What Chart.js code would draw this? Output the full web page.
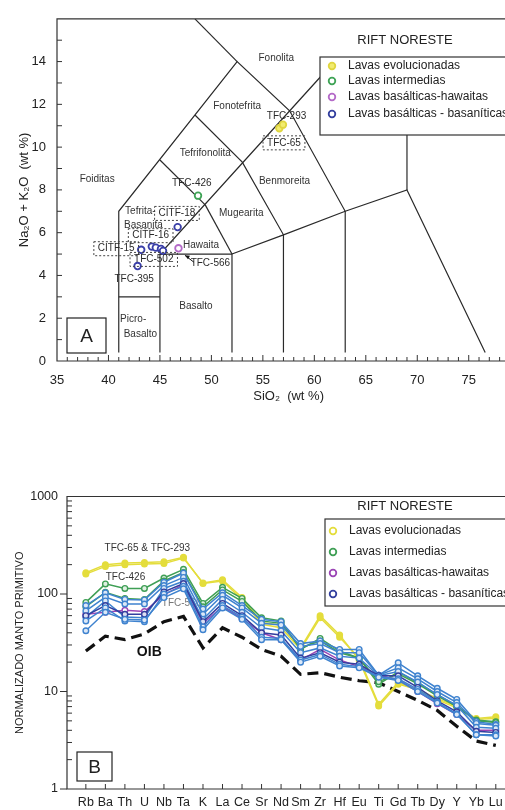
<!DOCTYPE html>
<html>
<head>
<meta charset="utf-8">
<script src="https://cdn.jsdelivr.net/npm/chart.js@4.4.0/dist/chart.umd.min.js"></script>
<style>
html, body { margin: 0; padding: 0; background: #fff; overflow: hidden; width: 505px; height: 810px; }
#tas { position: absolute; left: 0; top: 0; }
#spider { position: absolute; left: 0; top: 480px; }
</style>
</head>
<body>
<canvas id="tas" width="526" height="410"></canvas>
<canvas id="spider" width="526" height="330"></canvas>
<script>
// ---- panel A : TAS (SiO2 vs Na2O+K2O) ----
var evolvedPts = [[56.6, 10.88], [56.95, 11.05]];
var intermediatePts = [[48.7, 7.73]];
var hawaiitePts = [[46.8, 5.27]];
var basanitePts = [[46.72, 6.26], [43.18, 5.2], [44.21, 5.35], [44.6, 5.3], [45.1, 5.24], [45.3, 5.15], [42.83, 4.44]];

// field boundaries (Le Bas et al.)
var fieldLines = [
    [[41, 0.4], [41, 7], [52.5, 14], [57.6, 11.7], [63, 7], [63, 0.4]],
    [[48.4, 16], [52.5, 14]],
    [[41, 3], [45, 3]],
    [[45, 0.4], [45, 5], [61, 13.5]],
    [[45, 5], [52, 5], [52, 0.4]],
    [[52, 5], [57, 5.9], [63, 7], [69, 8], [76.6, 0.4]],
    [[49.4, 7.3], [52, 5]],
    [[45, 9.4], [49.4, 7.3]],
    [[48.4, 11.5], [53, 9.3], [57, 5.9], [57, 0.4]],
    [[69, 8], [69, 13]]
];

var fieldNames = ['Fonolita', 'Fonotefrita', 'Tefrifonolita', 'Foiditas', 'Benmoreita', 'Mugearita',
    'Tefrita-', 'Basanita', 'Hawaita', 'Basalto', 'Picro-', 'Basalto'];
var fieldNameAt = [[56.3, 14.15], [52.5, 11.9], [49.4, 9.7], [38.9, 8.5], [57.1, 8.4], [52.9, 6.9],
    [43.1, 7.0], [43.4, 6.36], [49.0, 5.41], [48.5, 2.55], [42.4, 1.95], [43.1, 1.27]];

var sampleNames = ['TFC-426', 'TFC-293', 'TFC-65', 'CITF-18', 'CITF-16', 'CITF-15', 'TFC-502', 'TFC-395', 'TFC-566'];
var sampleNameAt = [[48.1, 8.32], [57.3, 11.45], [57.05, 10.2], [46.65, 6.9], [44.1, 5.86], [40.75, 5.25], [44.4, 4.75], [42.5, 3.82], [49.9, 4.55]];
var sampleBoxed = [false, false, true, true, true, true, true, false, false];

var siTicks = [35, 40, 45, 50, 55, 60, 65, 70, 75];
var alkTicks = [0, 2, 4, 6, 8, 10, 12, 14];

// ---- panel B : spider diagram ----
var elements = ['Rb', 'Ba', 'Th', 'U', 'Nb', 'Ta', 'K', 'La', 'Ce', 'Sr', 'Nd', 'Sm', 'Zr', 'Hf', 'Eu', 'Ti', 'Gd', 'Tb', 'Dy', 'Y', 'Yb', 'Lu'];
var tfc65 = [160, 192, 200, 203, 205, 234, 130, 140, 92, 51, 48, 28, 60, 38, 21, 7.1, 11.9, 10.5, 8.5, 7.0, 5.3, 5.5];
var tfc293 = [165, 200, 208, 210, 214, 238, 128, 136, 88, 49, 45, 27, 57, 36, 22, 7.4, 12.4, 10.2, 8.2, 6.8, 5.2, 5.3];
var tfc426 = [82, 127, 114, 114, 146, 179, 80, 117, 90, 57, 53, 27, 35, 26, 22, 11.9, 15.9, 12.3, 9.3, 7.1, 5.1, 4.9];
var intermedia2 = [74, 104, 90, 88, 136, 166, 74, 110, 84, 53, 50, 28, 33, 25, 22, 12.6, 15.2, 12.0, 9.0, 7.0, 5.0, 4.8];
var hawaiite = [62, 65, 68, 66, 98, 125, 50, 74, 56, 40, 34, 21, 27, 21, 18, 14.7, 13.2, 10.0, 7.5, 5.8, 4.0, 4.0];
var basanite1 = [76, 103, 88, 87, 132, 164, 70, 103, 76, 55, 52, 31, 33, 27, 27, 14.7, 19.7, 14.5, 10.8, 8.3, 4.9, 4.6];
var basanite2 = [67, 93, 79, 79, 122, 148, 62, 97, 72, 50, 48, 29, 31, 25, 25, 14.7, 17.5, 13.5, 10.0, 7.7, 4.7, 4.5];
var basanite3 = [58, 85, 58, 57, 114, 135, 55, 88, 65, 45, 42, 25, 28, 23, 22, 14.5, 16.0, 12.5, 9.3, 7.2, 4.3, 4.2];
var basanite4 = [60, 76, 62, 62, 105, 128, 52, 80, 60, 40, 38, 22, 25, 20, 19, 14.5, 14.5, 11.0, 8.0, 6.2, 3.9, 3.8];
var basanite5 = [53, 72, 53, 52, 100, 120, 46, 76, 58, 36, 35, 21, 24, 19, 18, 14.2, 13.5, 10.5, 7.8, 5.9, 3.6, 3.6];
var basanite6 = [42, 65, 55, 54, 92, 113, 43, 72, 55, 34, 34, 20, 23, 18.3, 17.5, 14.0, 13.0, 10.0, 7.6, 5.8, 3.6, 3.5];
var oib = [26, 37, 34, 39, 52, 59, 28, 45, 36, 27, 23, 15, 15.6, 14, 12.9, 12.3, 10, 8.1, 6.4, 4.4, 3.1, 2.8];
var logTicks = [1, 10, 100, 1000];

var legendLabels = ['Lavas evolucionadas', 'Lavas intermedias', 'Lavas basálticas-hawaitas', 'Lavas basálticas - basaníticas'];

Chart.defaults.font.family = '"Liberation Sans", Arial, sans-serif';
Chart.defaults.color = '#222';

var YELLOW = '#e4dd3c', GREEN = '#3f9f55', PURPLE = '#9b45b5', BLUE = '#3f83cf', NAVY = '#333f9e';

function toXY(p) { return { x: p[0], y: p[1] }; }

function drawLegend(ctx, L, marks) {
    ctx.save();
    ctx.fillStyle = '#fff';
    ctx.fillRect(L.left, L.top, 260, L.bottom - L.top);
    ctx.strokeStyle = '#333';
    ctx.lineWidth = 1.2;
    ctx.strokeRect(L.left, L.top, 260, L.bottom - L.top);
    ctx.fillStyle = '#222';
    ctx.font = '13px "Liberation Sans", Arial, sans-serif';
    ctx.textAlign = 'center';
    ctx.textBaseline = 'middle';
    ctx.fillText('RIFT NORESTE', L.titleX, L.titleY);
    ctx.font = '12px "Liberation Sans", Arial, sans-serif';
    ctx.textAlign = 'left';
    for (var i = 0; i < legendLabels.length; i++) {
        var y = L.rows[i];
        ctx.beginPath();
        ctx.arc(L.markX, y, 3.3, 0, Math.PI * 2);
        ctx.fillStyle = marks[i].fill;
        ctx.fill();
        ctx.lineWidth = 1.8;
        ctx.strokeStyle = marks[i].color;
        ctx.stroke();
        ctx.fillStyle = '#222';
        ctx.fillText(legendLabels[i], L.textX, y);
    }
    ctx.restore();
}

function drawPanelTag(ctx, x, y, w, h, txt) {
    ctx.save();
    ctx.fillStyle = '#fff';
    ctx.fillRect(x, y, w, h);
    ctx.strokeStyle = '#222';
    ctx.lineWidth = 1.2;
    ctx.strokeRect(x, y, w, h);
    ctx.fillStyle = '#222';
    ctx.font = '19px "Liberation Sans", Arial, sans-serif';
    ctx.textAlign = 'center';
    ctx.textBaseline = 'middle';
    ctx.fillText(txt, x + w / 2, y + h / 2 + 1);
    ctx.restore();
}

// ---------------- chart A ----------------
var tasDatasets = [];
fieldLines.forEach(function (line) {
    tasDatasets.push({
        data: line.map(toXY), showLine: true, borderColor: '#2a2a2a', borderWidth: 1.2,
        pointRadius: 0, tension: 0, order: 2
    });
});
function tasPoints(pts, color, fill) {
    return {
        data: pts.map(toXY), showLine: false, pointRadius: 3.3, pointBorderWidth: 1.8,
        pointBorderColor: color, pointBackgroundColor: fill, order: 0
    };
}
tasDatasets.push(tasPoints(evolvedPts, '#e0d640', '#f2ec70'));
tasDatasets.push(tasPoints(intermediatePts, '#3fa356', '#fff'));
tasDatasets.push(tasPoints(hawaiitePts, '#b46ac8', '#fff'));
tasDatasets.push(tasPoints(basanitePts, '#3a3fa8', '#fff'));

var tasDecor = {
    id: 'tasDecor',
    afterDatasetsDraw: function (chart) {
        var ctx = chart.ctx, a = chart.chartArea, sx = chart.scales.x, sy = chart.scales.y;
        ctx.save();
        // frame
        ctx.strokeStyle = '#333';
        ctx.lineWidth = 1.2;
        ctx.beginPath();
        ctx.moveTo(a.right + 5, a.top); ctx.lineTo(a.left, a.top);
        ctx.lineTo(a.left, a.bottom); ctx.lineTo(a.right + 5, a.bottom);
        ctx.stroke();
        // inner ticks
        ctx.lineWidth = 1;
        ctx.beginPath();
        for (var v = 1; v < 16; v++) {
            var py = sy.getPixelForValue(v);
            ctx.moveTo(a.left, py); ctx.lineTo(a.left + 5, py);
        }
        for (var s = 36; s <= 80; s++) {
            var pxx = sx.getPixelForValue(s);
            ctx.moveTo(pxx, a.bottom); ctx.lineTo(pxx, a.bottom - (s % 5 === 0 ? 6 : 4));
        }
        ctx.stroke();

        // field names
        ctx.fillStyle = '#333';
        ctx.font = '10px "Liberation Sans", Arial, sans-serif';
        ctx.textAlign = 'center';
        ctx.textBaseline = 'middle';
        fieldNames.forEach(function (n, i) {
            ctx.fillText(n, sx.getPixelForValue(fieldNameAt[i][0]), sy.getPixelForValue(fieldNameAt[i][1]));
        });
        // sample labels, some in dashed boxes
        sampleNames.forEach(function (n, i) {
            var x = sx.getPixelForValue(sampleNameAt[i][0]), y = sy.getPixelForValue(sampleNameAt[i][1]);
            ctx.fillStyle = '#2a2a2a';
            ctx.fillText(n, x, y);
            if (sampleBoxed[i]) {
                var w = ctx.measureText(n).width + 8;
                ctx.save();
                ctx.setLineDash([2, 2]);
                ctx.strokeStyle = '#444';
                ctx.strokeRect(x - w / 2, y - 7, w, 14);
                ctx.restore();
            }
        });
        // arrow to TFC-566
        var tip = [sx.getPixelForValue(47.43), sy.getPixelForValue(4.94)];
        var tail = [sx.getPixelForValue(48.3), sy.getPixelForValue(4.62)];
        ctx.strokeStyle = '#111';
        ctx.beginPath();
        ctx.moveTo(tail[0], tail[1]); ctx.lineTo(tip[0], tip[1]);
        ctx.stroke();
        ctx.fillStyle = '#111';
        ctx.beginPath();
        ctx.moveTo(tip[0], tip[1]); ctx.lineTo(tip[0] + 5, tip[1] + 0.5); ctx.lineTo(tip[0] + 3, tip[1] + 4);
        ctx.closePath();
        ctx.fill();
        ctx.restore();

        drawLegend(ctx, { left: 320, top: 57, bottom: 135, titleX: 405, titleY: 40, rows: [66, 81, 97, 114], markX: 332, textX: 348 },
            [{ color: '#e0d640', fill: '#f2ec70' }, { color: '#3fa356', fill: '#fff' }, { color: '#b46ac8', fill: '#fff' }, { color: '#333f9e', fill: '#fff' }]);
        drawPanelTag(ctx, 67, 318, 39, 35, 'A');
    }
};

new Chart(document.getElementById('tas'), {
    type: 'scatter',
    data: { datasets: tasDatasets },
    options: {
        responsive: false,
        animation: false,
        events: [],
        layout: { padding: { left: 0, top: 8, right: 2, bottom: 0 } },
        plugins: { legend: { display: false }, tooltip: { enabled: false } },
        scales: {
            x: {
                type: 'linear', min: 35, max: 80,
                afterBuildTicks: function (s) { s.ticks = siTicks.map(function (v) { return { value: v }; }); },
                afterFit: function (s) { s.height = 49; },
                grid: { display: false, drawTicks: false }, border: { display: false },
                ticks: { padding: 12, maxRotation: 0, autoSkip: false, font: { size: 13 }, color: '#222' },
                title: { display: true, text: 'SiO₂  (wt %)', font: { size: 13 }, color: '#222', padding: { top: 0, bottom: 6 } }
            },
            y: {
                type: 'linear', min: 0, max: 16,
                afterBuildTicks: function (s) { s.ticks = alkTicks.map(function (v) { return { value: v }; }); },
                afterFit: function (s) { s.width = 57; },
                grid: { display: false, drawTicks: false }, border: { display: false },
                ticks: { padding: 11, autoSkip: false, font: { size: 13 }, color: '#222' },
                title: { display: true, text: 'Na₂O + K₂O  (wt %)', font: { size: 13 }, color: '#222', padding: { top: 17, bottom: 0 } }
            }
        }
    },
    plugins: [tasDecor]
});

// ---------------- chart B ----------------
function spiderSet(values, color, fill, order) {
    return {
        data: values.map(function (v, i) { return { x: i, y: v }; }),
        showLine: true, borderColor: color, borderWidth: 1.5, tension: 0,
        pointRadius: 2.8, pointBorderWidth: 1.4, pointBorderColor: color, pointBackgroundColor: fill,
        order: order
    };
}
var spiderDatasets = [
    spiderSet(basanite6, BLUE, '#dce8f7', 0),
    spiderSet(basanite5, BLUE, '#dce8f7', 0),
    spiderSet(basanite4, NAVY, '#dde0f2', 0),
    spiderSet(basanite3, BLUE, '#dce8f7', 0),
    spiderSet(basanite2, BLUE, '#dce8f7', 0),
    spiderSet(basanite1, BLUE, '#dce8f7', 0),
    spiderSet(hawaiite, PURPLE, '#fff', 0),
    spiderSet(intermedia2, GREEN, '#dff0e2', 1),
    spiderSet(tfc426, GREEN, '#dff0e2', 1),
    spiderSet(tfc65, YELLOW, YELLOW, 2),
    spiderSet(tfc293, YELLOW, YELLOW, 2),
    {
        data: oib.map(function (v, i) { return { x: i, y: v }; }),
        showLine: true, borderColor: '#111', borderWidth: 3.2, borderDash: [11, 6],
        pointRadius: 0, tension: 0, order: 3
    }
];

var spiderDecor = {
    id: 'spiderDecor',
    beforeDatasetsDraw: function (chart) {
        var ctx = chart.ctx, sx = chart.scales.x, sy = chart.scales.y;
        ctx.save();
        ctx.fillStyle = '#777';
        ctx.font = '10px "Liberation Sans", Arial, sans-serif';
        ctx.textAlign = 'center';
        ctx.textBaseline = 'middle';
        ctx.fillText('TFC-566', sx.getPixelForValue(4.9), sy.getPixelForValue(80));
        ctx.restore();
    },
    afterDatasetsDraw: function (chart) {
        var ctx = chart.ctx, a = chart.chartArea, sx = chart.scales.x, sy = chart.scales.y;
        ctx.save();
        ctx.strokeStyle = '#333';
        ctx.lineWidth = 1.2;
        ctx.beginPath();
        ctx.moveTo(a.right + 5, a.top); ctx.lineTo(a.left, a.top);
        ctx.lineTo(a.left, a.bottom); ctx.lineTo(a.right + 5, a.bottom);
        ctx.stroke();
        ctx.lineWidth = 1;
        ctx.beginPath();
        [1, 10, 100].forEach(function (d) {
            for (var m = 1; m <= 9; m++) {
                var py = sy.getPixelForValue(m * d);
                if (m === 1) {
                    ctx.moveTo(a.left - 7, py); ctx.lineTo(a.left, py);
                } else {
                    ctx.moveTo(a.left, py); ctx.lineTo(a.left + 5, py);
                }
            }
        });
        elements.forEach(function (e, i) {
            var pxx = sx.getPixelForValue(i);
            ctx.moveTo(pxx, a.bottom); ctx.lineTo(pxx, a.bottom - 5);
        });
        ctx.stroke();

        ctx.fillStyle = '#333';
        ctx.textAlign = 'center';
        ctx.textBaseline = 'middle';
        ctx.font = '10px "Liberation Sans", Arial, sans-serif';
        ctx.fillText('TFC-65 & TFC-293', sx.getPixelForValue(3.15), sy.getPixelForValue(293));
        ctx.fillText('TFC-426', sx.getPixelForValue(2.03), sy.getPixelForValue(150));
        ctx.fillStyle = '#111';
        ctx.font = 'bold 14px "Liberation Sans", Arial, sans-serif';
        ctx.fillText('OIB', sx.getPixelForValue(3.25), sy.getPixelForValue(25.4));
        ctx.restore();

        drawLegend(ctx, { left: 325, top: 39, bottom: 126, titleX: 405, titleY: 26, rows: [51, 72, 93, 114], markX: 333, textX: 349 },
            [{ color: YELLOW, fill: '#fff' }, { color: GREEN, fill: '#fff' }, { color: PURPLE, fill: '#fff' }, { color: NAVY, fill: '#fff' }]);
        drawPanelTag(ctx, 77, 272, 35, 29, 'B');
    }
};

new Chart(document.getElementById('spider'), {
    type: 'scatter',
    data: { datasets: spiderDatasets },
    options: {
        responsive: false,
        animation: false,
        events: [],
        layout: { padding: { left: 0, top: 10, right: 2, bottom: 0 } },
        plugins: { legend: { display: false }, tooltip: { enabled: false } },
        scales: {
            x: {
                type: 'linear', min: -0.966, max: 22.27,
                afterBuildTicks: function (s) { s.ticks = elements.map(function (e, i) { return { value: i }; }); },
                afterFit: function (s) { s.height = 21; },
                grid: { display: false, drawTicks: false }, border: { display: false },
                ticks: {
                    padding: 6, maxRotation: 0, minRotation: 0, autoSkip: false, font: { size: 12.5 }, color: '#222',
                    callback: function (v) { return elements[v]; }
                }
            },
            y: {
                type: 'logarithmic', min: 1, max: 1000,
                afterBuildTicks: function (s) { s.ticks = logTicks.map(function (v) { return { value: v }; }); },
                afterFit: function (s) { s.width = 67; },
                grid: { display: false, drawTicks: false }, border: { display: false },
                ticks: { padding: 9, autoSkip: false, font: { size: 12.5 }, color: '#222', callback: function (v) { return String(v); } },
                title: { display: true, text: 'NORMALIZADO MANTO PRIMITIVO', font: { size: 11 }, color: '#222', padding: { top: 13, bottom: 0 } }
            }
        }
    },
    plugins: [spiderDecor]
});
</script>
</body>
</html>
